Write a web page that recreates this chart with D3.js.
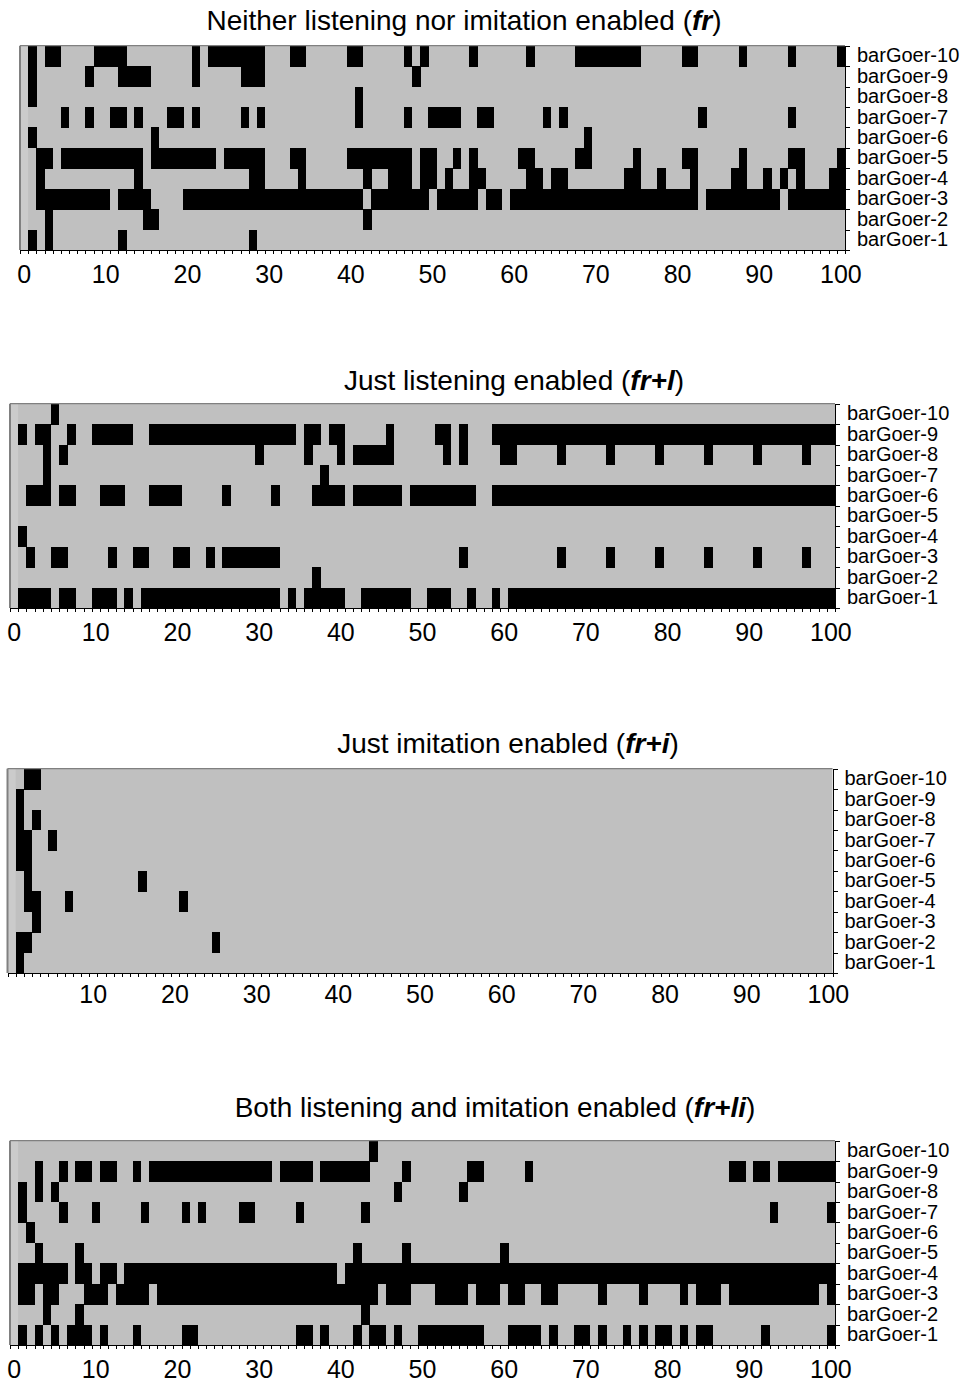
<!DOCTYPE html>
<html>
<head>
<meta charset="utf-8">
<script src="https://cdn.jsdelivr.net/npm/d3@7"></script>
<style>
  body { margin: 0; background: #fff; }
  svg text { font-family: "Liberation Sans", Arial, sans-serif; fill: #000; }
</style>
</head>
<body>
<div id="chart"></div>
<script>
// time steps 0..100 and the ten agents (top row first)
const steps = d3.range(0, 101);
const rowLabels = ["barGoer-10", "barGoer-9", "barGoer-8", "barGoer-7", "barGoer-6",
                   "barGoer-5", "barGoer-4", "barGoer-3", "barGoer-2", "barGoer-1"];
const tickLabels = [0, 10, 20, 30, 40, 50, 60, 70, 80, 90, 100];
const tickLabelsNoZero = [10, 20, 30, 40, 50, 60, 70, 80, 90, 100];

// black cells per row (steps where the agent goes to the bar), barGoer-10 first
const frOn = [
  "1,3-4,9-12,21,23-29,33-34,40-41,47,49,55,62,68-75,81-82,88,94,100",
  "1,8,12-15,21,27-29,48",
  "1,41",
  "5,8,11-12,14,18-19,21,27,29,41,47,50-53,56-57,64,66,83,94",
  "1,16,69",
  "2-3,5-14,16-23,25-29,33-34,40-47,49-50,53,55,61-62,68-69,75,81-82,88,94-95,100",
  "2,14,28-29,34,42,45-47,49-50,52,55-56,62-63,65-66,74-75,78,82,87-88,91,93,95,99-100",
  "2-10,12-15,20-41,43-49,51-55,57-58,60-82,84-92,94-100",
  "3,15-16,42",
  "1,3,12,28"
];
const frlOn = [
  "5",
  "1,3-4,7,10-14,17-34,36-37,39-40,46,52-53,55,59-100",
  "4,6,30,36,40,42-46,53,55,60-61,67,73,79,85,91,97",
  "4,38",
  "2-4,6-7,11-13,17-20,26,32,37-40,42-47,49-56,59-100",
  "",
  "1",
  "2,5-6,12,15-16,20-21,24,26-32,55,67,73,79,85,91,97",
  "37",
  "1-4,6-7,10-12,14,16-32,34,36-40,43-48,51-53,56,59,61-100"
];
const friOn = [
  "2-3",
  "1",
  "1,3",
  "1-2,5",
  "1-2",
  "2,16",
  "2-3,7,21",
  "3",
  "1-2,25",
  "1"
];
const frliOn = [
  "44",
  "3,6,8-9,11-12,15,17-31,33-36,38-43,48,56-57,63,88-89,91-92,94-100",
  "1,3,5,47,55",
  "1,6,10,16,21,23,28-29,35,43,93,100",
  "2",
  "3,8,42,48,60",
  "1-6,8-9,11-12,14-39,41-100",
  "1-2,4-5,9-11,13-16,18-44,46-48,52-55,57-59,61-62,65-66,72,77,82,84-86,88-98,100",
  "4,8,43",
  "1,3,5,7-9,11,15,21-22,35-36,38,42,44-45,47,50-57,61-64,66,69-70,72,75,77,79-80,82,84-85,92,100"
];

const titles = [
  ["Neither listening nor imitation enabled (", "fr", ")"],
  ["Just listening enabled (", "fr+l", ")"],
  ["Just imitation enabled (", "fr+i", ")"],
  ["Both listening and imitation enabled (", "fr+li", ")"]
];

// canvas
const width = 966;
const height = 1385;
const plotW = 825;
const plotH = 204.3;
const grey = "#c0c0c0";

const panels = [
  { rows: frOn,   title: titles[0], ticks: tickLabels,       left: 20,  top: 45.7,   titleX: 464, titleY: 30,   pad: 15 },
  { rows: frlOn,  title: titles[1], ticks: tickLabels,       left: 10,  top: 403.7,  titleX: 514, titleY: 390,  pad: 15 },
  { rows: friOn,  title: titles[2], ticks: tickLabelsNoZero, left: 7.5, top: 768.7,  titleX: 508, titleY: 753,  pad: 12 },
  { rows: frliOn, title: titles[3], ticks: tickLabels,       left: 10,  top: 1140.7, titleX: 495, titleY: 1117, pad: 15 }
];

const parseRow = (s) => {
  const on = new Set();
  s.split(",").filter(d => d.length).forEach(part => {
    const [a, b] = part.split("-").map(Number);
    for (let i = a; i <= (b === undefined ? a : b); i++) on.add(i);
  });
  return on;
};

const svg = d3.select("#chart")
  .append("svg")
  .attr("width", width)
  .attr("height", height);

panels.forEach(p => {
  const g = svg.append("g");
  const x = d3.scaleBand().domain(steps).range([p.left, p.left + plotW]);
  const y = d3.scaleBand().domain(rowLabels).range([p.top, p.top + plotH]);
  const xl = d3.scaleLinear().domain([0, steps.length]).range([p.left, p.left + plotW]);
  const yl = d3.scaleLinear().domain([0, rowLabels.length]).range([p.top + plotH, p.top]);

  // title
  const t = g.append("text")
    .attr("x", p.titleX)
    .attr("y", p.titleY)
    .attr("text-anchor", "middle")
    .style("font-size", "28px");
  t.append("tspan").text(p.title[0]);
  t.append("tspan").text(p.title[1]).style("font-weight", "bold").style("font-style", "italic");
  t.append("tspan").text(p.title[2]);

  // plot background
  g.append("rect")
    .attr("x", p.left).attr("y", p.top)
    .attr("width", plotW).attr("height", plotH)
    .attr("fill", grey);

  // first column is a touch lighter
  g.append("rect")
    .attr("x", x(0)).attr("y", p.top)
    .attr("width", x.bandwidth()).attr("height", plotH)
    .attr("fill", "#cbcbcb");

  const cells = [];
  p.rows.forEach((s, i) => {
    parseRow(s).forEach(step => cells.push({ row: rowLabels[i], step: step }));
  });

  g.selectAll(".cell")
    .data(cells)
    .enter()
    .append("rect")
    .attr("class", "cell")
    .attr("x", d => x(d.step))
    .attr("y", d => y(d.row))
    .attr("width", x.bandwidth() + 0.4)
    .attr("height", y.bandwidth() + 0.4)
    .attr("fill", "#000")
    .attr("shape-rendering", "crispEdges");

  // frame: top and left in dark grey
  g.append("line")
    .attr("x1", p.left).attr("x2", p.left + plotW)
    .attr("y1", p.top).attr("y2", p.top)
    .attr("stroke", "#808080").attr("stroke-width", 1.2);
  g.append("line")
    .attr("x1", p.left).attr("x2", p.left)
    .attr("y1", p.top).attr("y2", p.top + plotH)
    .attr("stroke", "#808080").attr("stroke-width", 2);

  // bottom axis: ticks between steps
  g.append("g")
    .attr("transform", "translate(0," + (p.top + plotH) + ")")
    .call(d3.axisBottom(xl).tickValues(d3.range(0, steps.length + 1)).tickFormat("").tickSize(4).tickSizeOuter(0))
    .attr("shape-rendering", "crispEdges");

  g.append("g")
    .attr("transform", "translate(0," + (p.top + plotH) + ")")
    .call(d3.axisBottom(x).tickValues(p.ticks).tickSize(0).tickPadding(p.pad))
    .call(a => a.select(".domain").remove())
    .selectAll("text")
    .style("font-size", "25px")
    .attr("font-family", null);

  // right axis with agent names
  g.append("g")
    .attr("transform", "translate(" + (p.left + plotW) + ",0)")
    .call(d3.axisRight(yl).tickValues(d3.range(0, rowLabels.length + 1)).tickFormat("").tickSize(5).tickSizeOuter(0))
    .attr("shape-rendering", "crispEdges");

  g.append("g")
    .attr("transform", "translate(" + (p.left + plotW) + ",0)")
    .call(d3.axisRight(y).tickSize(0).tickPadding(12))
    .call(a => a.select(".domain").remove())
    .selectAll("text")
    .style("font-size", "20px")
    .attr("font-family", null);
});
</script>
</body>
</html>
